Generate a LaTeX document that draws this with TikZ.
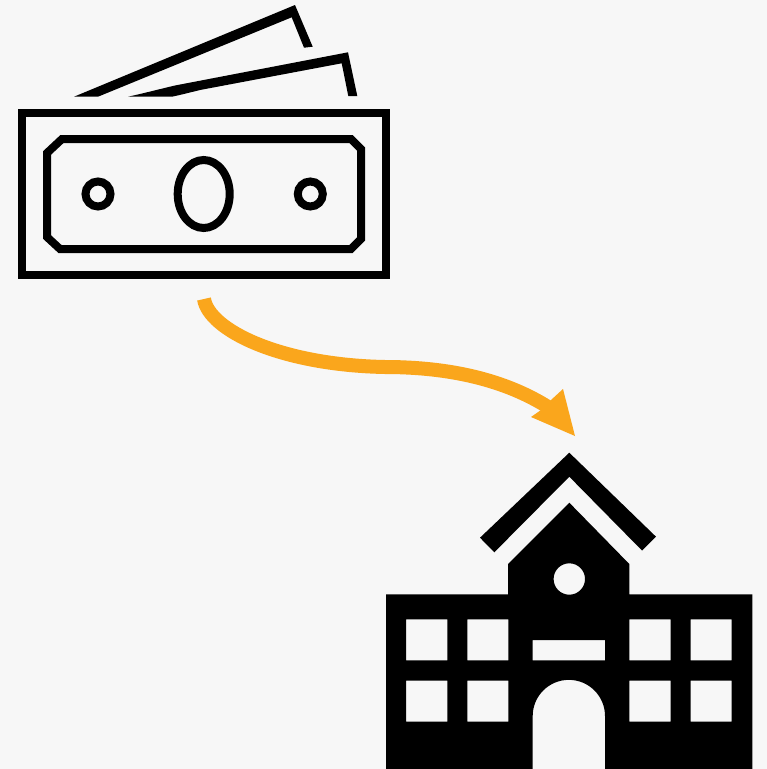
\documentclass[tikz,border=0pt]{standalone}
\definecolor{bgc}{HTML}{F7F7F7}
\definecolor{arrowc}{HTML}{FAA61C}
\tikzset{
  linework/.style={draw=black,line width=8pt,line join=miter},
  solid black/.style={fill=black,draw=none},
  flow/.style={draw=arrowc,line width=14pt},
  flowhead/.style={fill=arrowc,draw=none}
}
\begin{document}
\begin{tikzpicture}[x=1pt,y=-1pt]
\useasboundingbox (0,0) rectangle (767,769);
\fill[bgc] (0,0) rectangle (767,769);
% back notes
\fill[solid black] (74,96.7) -- (295,5) -- (312.7,46.7) -- (304,47.7) -- (291.7,17.3) -- (98,96.7) -- cycle;
\fill[solid black] (128,96.7) .. controls (145,93) and (160,89) .. (175,85.5) -- (348,52.3) -- (357.3,96) -- (348.3,96) -- (341.7,63.3) -- (200,90) .. controls (190,92.5) and (180,95) .. (172,96.7) -- cycle;
% bill
\draw[linework] (21.5,113) rectangle (386,274.5);
\draw[linework] (62,139) -- (351,139) -- (361,149) -- (361,239) -- (351,249) -- (60,249) -- (47,237) -- (47,153) -- cycle;
\draw[linework] (98,194) circle[radius=12.5];
\draw[linework] (310.3,194) circle[radius=12.5];
\draw[linework] (203.7,194) ellipse[x radius=26,y radius=34];
% arrow
\coordinate (from) at (204,299);
\coordinate (tip) at (575,436);
\draw[flow] (from) .. controls (209,330) and (280,365) .. (385,367) .. controls (450,367) and (505,380) .. (548,407);
\fill[flowhead] (tip) -- (563,389) -- (551,400) -- (541,410) -- (531,417) -- cycle;
% school
\fill[solid black] (480,537.7) -- (569.3,452.7) -- (656,536.7) -- (642,550.5) -- (569.3,476.7) -- (494.3,552.3) -- cycle;
\fill[solid black,even odd rule]
  (386,594.3) -- (508,594.3) -- (508,564) -- (569.3,502.7) -- (629.3,564) -- (629.3,594.3) -- (752.3,594.3) -- (752.3,769) -- (605,769) -- (605,716) arc[start angle=0,end angle=-180,radius=36.15] -- (532.7,769) -- (386,769) -- cycle
  (569.3,579) circle[radius=15.7]
  (406,619.3) rectangle (447.3,660.3)
  (467.3,619.3) rectangle (508.3,660.3)
  (629.3,619.3) rectangle (670.7,660.3)
  (690.7,619.3) rectangle (731.7,660.3)
  (406,680.7) rectangle (447.3,721.7)
  (467.3,680.7) rectangle (508.3,721.7)
  (629.3,680.7) rectangle (670.7,721.7)
  (690.7,680.7) rectangle (731.7,721.7)
  (532.7,640) rectangle (605,660.3);
\end{tikzpicture}
\end{document}
